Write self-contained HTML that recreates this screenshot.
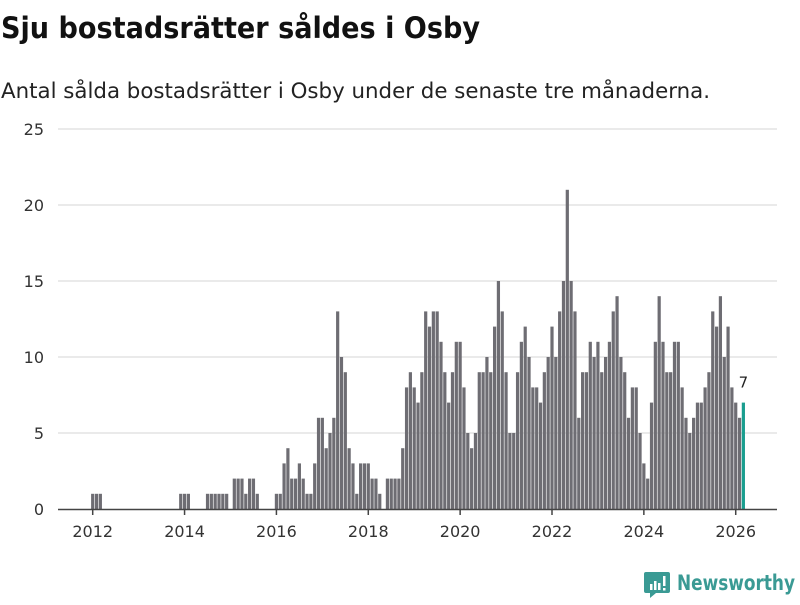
<!DOCTYPE html>
<html><head><meta charset="utf-8"><style>
html,body{margin:0;padding:0;background:#fff;}
svg text{font-family:"DejaVu Sans","Liberation Sans",sans-serif;}
</style></head><body>
<svg id="chart" width="800" height="600" viewBox="0 0 800 600" xmlns="http://www.w3.org/2000/svg">
<text x="1" y="38" font-size="29" font-weight="bold" fill="#111" textLength="479" lengthAdjust="spacingAndGlyphs">Sju bostadsrätter såldes i Osby</text>
<text x="1" y="98" font-size="21" fill="#222" textLength="709" lengthAdjust="spacingAndGlyphs">Antal sålda bostadsrätter i Osby under de senaste tre månaderna.</text>
<g id="grid"></g>
<g id="bars"></g>
<g id="xaxis"></g>
<g>
<path d="M646 572 h22 a2 2 0 0 1 2 2 v17 a2 2 0 0 1 -2 2 h-12 l-6 5 v-5 h-4 a2 2 0 0 1 -2 -2 v-17 a2 2 0 0 1 2 -2z" fill="#3a9a94"/>
<rect x="650" y="584" width="2.5" height="6" fill="#fff"/>
<rect x="654" y="581" width="2.5" height="9" fill="#fff"/>
<rect x="658" y="583" width="2.5" height="7" fill="#fff"/>
<rect x="663" y="576" width="2.5" height="10" fill="#fff"/>
<rect x="663" y="588" width="2.5" height="2.5" fill="#fff"/>
<text x="677" y="590" font-size="21" font-weight="bold" fill="#3a9a94" textLength="118" lengthAdjust="spacingAndGlyphs">Newsworthy</text>
</g>
</svg>
<script>
const startYear = 2012;
const yTicks = [0, 5, 10, 15, 20, 25];
const xTickYears = [2012, 2014, 2016, 2018, 2020, 2022, 2024, 2026];
const values2012 = [1,1,1,0,0,0,0,0,0,0,0,0];
const values2013 = [0,0,0,0,0,0,0,0,0,0,0,1];
const values2014 = [1,1,0,0,0,0,1,1,1,1,1,1];
const values2015 = [0,2,2,2,1,2,2,1,0,0,0,0];
const values2016 = [1,1,3,4,2,2,3,2,1,1,3,6];
const values2017 = [6,4,5,6,13,10,9,4,3,1,3,3];
const values2018 = [3,2,2,1,0,2,2,2,2,4,8,9];
const values2019 = [8,7,9,13,12,13,13,11,9,7,9,11];
const values2020 = [11,8,5,4,5,9,9,10,9,12,15,13];
const values2021 = [9,5,5,9,11,12,10,8,8,7,9,10];
const values2022 = [12,10,13,15,21,15,13,6,9,9,11,10];
const values2023 = [11,9,10,11,13,14,10,9,6,8,8,5];
const values2024 = [3,2,7,11,14,11,9,9,11,11,8,6];
const values2025 = [5,6,7,7,8,9,13,12,14,10,12,8];
const values2026 = [7,6,7];
const highlightLabel = "7";

const series = [].concat(values2012,values2013,values2014,values2015,values2016,values2017,values2018,values2019,values2020,values2021,values2022,values2023,values2024,values2025,values2026);
const NS = "http://www.w3.org/2000/svg";
const plotLeft = 58, plotRight = 777, y0 = 509, yTop = 129, yMax = 25;
const tick0 = 92.7, perYear = 45.93;
function xScale(monthIndex){ return tick0 + monthIndex * perYear / 12; }
function yScale(v){ return y0 - (v / yMax) * (y0 - yTop); }
function mk(tag, attrs){ const e = document.createElementNS(NS, tag); for (const k in attrs) e.setAttribute(k, attrs[k]); return e; }

const grid = document.getElementById('grid');
yTicks.forEach(t => {
  const y = yScale(t);
  if (t > 0) {
    const l = mk('line', {x1: plotLeft, x2: plotRight, y1: y, y2: y, stroke: '#dedede', 'stroke-width': 1.2});
    
    
    grid.appendChild(l);
  }
  const tx = mk('text', {x: 44, y: y + 6, 'font-size': 16, fill: '#333', 'text-anchor': 'end'});
  tx.textContent = t;
  
  
  grid.appendChild(tx);
});

const bars = document.getElementById('bars');
const bw = 3.2;
series.forEach((v, i) => {
  if (v <= 0) return;
  const last = i === series.length - 1;
  const cx = xScale(i);
  const r = mk('rect', {x: cx - bw/2, y: yScale(v), width: bw, height: y0 - yScale(v), fill: last ? '#1a9e8f' : '#6e6d73'});
  
  
  bars.appendChild(r);
  if (last) {
    const lb = mk('text', {x: cx, y: yScale(v) - 15, 'font-size': 15, fill: '#222', 'text-anchor': 'middle'});
    lb.textContent = highlightLabel;
    
    
    bars.appendChild(lb);
  }
});

const xa = document.getElementById('xaxis');
const base = mk('line', {x1: plotLeft, x2: plotRight, y1: y0 + 0.5, y2: y0 + 0.5, stroke: '#444', 'stroke-width': 1.5});


xa.appendChild(base);
xTickYears.forEach(yr => {
  const x = xScale((yr - startYear) * 12);
  const t = mk('line', {x1: x, x2: x, y1: y0, y2: y0 + 6, stroke: '#444', 'stroke-width': 1.5});
  
  
  xa.appendChild(t);
  const tx = mk('text', {x: x, y: 537, 'font-size': 16, fill: '#333', 'text-anchor': 'middle'});
  tx.textContent = yr;
  
  
  xa.appendChild(tx);
});
</script>
</body></html>
